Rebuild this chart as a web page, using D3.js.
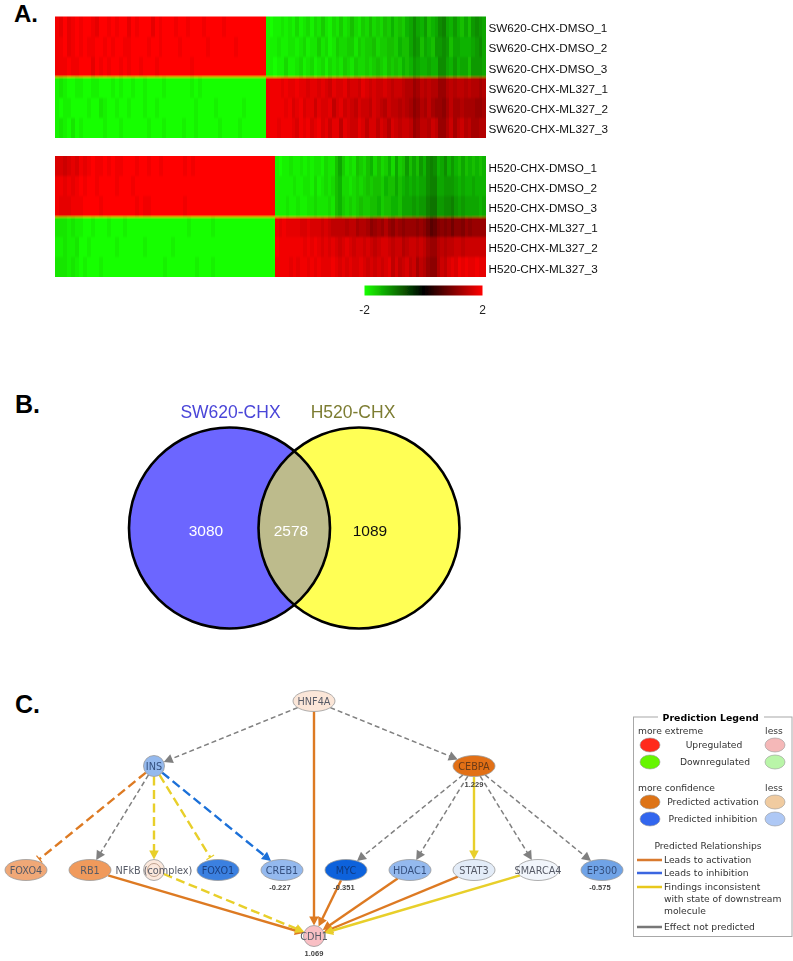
<!DOCTYPE html>
<html><head><meta charset="utf-8">
<script src="https://cdn.jsdelivr.net/npm/d3@7"></script>
<style>html,body{margin:0;padding:0;background:#fff}svg{display:block}</style>
</head><body>
<svg id="c" width="793" height="961"></svg>
<script>
// ---------- Panel A data: |z| per column, read by eye ----------
const sw620Labels = ["SW620-CHX-DMSO_1","SW620-CHX-DMSO_2","SW620-CHX-DMSO_3","SW620-CHX-ML327_1","SW620-CHX-ML327_2","SW620-CHX-ML327_3"];
const h520Labels = ["H520-CHX-DMSO_1","H520-CHX-DMSO_2","H520-CHX-DMSO_3","H520-CHX-ML327_1","H520-CHX-ML327_2","H520-CHX-ML327_3"];
const rowSigns = [1,1,1,-1,-1,-1];

const sw620Left = [
[1.9,1.8,2,1.8,1.9,2,1.9,2,2,1.9,1.8,2,2,1.9,2,1.9,2,2,1.8,2,1.9,2,2,2,1.8,2,1.9,2,2,2,1.9,2,2,1.9,2,2,2,1.9,2,2,2,2,1.9,2,2,2,2,2,2,2,2,2,2],
[1.9,1.9,2,1.8,1.9,2,1.9,2,1.9,1.9,2,2,1.9,2,1.9,2,2,1.9,1.9,2,2,2,2,1.9,2,2,1.9,2,2,2,2,1.9,2,2,2,2,2,2,1.9,2,2,2,2,2,2,1.9,2,2,2,2,2,2,2],
[1.9,1.9,1.9,2,1.9,1.9,2,2,2,1.8,2,1.9,2,1.9,2,2,1.9,2,1.9,2,2,1.9,2,2,2,1.9,2,2,2,2,2,2,2,2,1.9,2,2,2,2,2,2,2,2,2,2,2,2,2,2,2,2,2,2],
[1.9,1.8,1.9,2,2,1.9,1.9,2,2,1.9,1.9,2,2,2,1.9,2,1.9,2,2,1.9,2,2,1.9,2,2,2,2,1.9,2,2,2,2,2,2,1.9,2,1.9,2,2,2,2,2,2,2,2,2,2,2,2,2,2,2,2],
[1.9,2,1.9,1.9,2,2,2,2,1.9,2,2,1.8,1.9,2,2,1.9,2,2,1.9,2,2,2,1.9,2,2,1.9,2,2,2,2,2,2,2,2,2,1.9,2,2,2,2,1.9,2,2,2,2,2,2,1.9,2,2,2,2,2],
[1.9,1.8,1.9,2,1.8,2,1.9,2,2,2,2,2,1.9,2,2,2,1.9,2,2,2,2,2,2,1.9,2,2,2,1.9,2,2,2,2,1.9,2,2,1.9,2,2,2,2,2,1.9,2,2,2,2,1.9,2,2,2,2,2,2]];
const sw620Right = [
[1.9,2,1.9,1.9,1.8,1.9,1.8,1.9,1.7,1.9,1.8,1.7,1.9,1.7,1.8,1.6,1.8,1.9,1.7,1.8,1.6,1.8,1.7,1.5,1.7,1.8,1.6,1.7,1.5,1.7,1.6,1.7,1.5,1.6,1.4,1.6,1.5,1.6,1.4,1.3,1.1,1.3,1.4,1.2,1.5,1.4,1.3,1.1,1,1.3,1.4,1.2,1.4,1.5,1.3,1.5,1.2,1.1,1.2,1.3],
[1.9,1.9,1.9,1.8,1.9,1.9,1.8,1.8,1.9,1.8,1.7,1.9,1.8,1.8,1.6,1.8,1.7,1.9,1.8,1.6,1.7,1.7,1.6,1.6,1.8,1.6,1.7,1.6,1.6,1.5,1.7,1.6,1.6,1.5,1.5,1.6,1.4,1.5,1.5,1.3,1.1,1.2,1.5,1.3,1.4,1.5,1.2,1.2,1.1,1.2,1.5,1.3,1.3,1.4,1.4,1.4,1.3,1.2,1.1,1.3],
[1.9,1.9,2,1.9,1.9,1.7,1.9,1.9,1.8,1.7,1.9,1.8,1.7,1.9,1.8,1.7,1.9,1.7,1.8,1.7,1.8,1.6,1.7,1.8,1.6,1.7,1.7,1.6,1.7,1.6,1.5,1.6,1.7,1.5,1.6,1.5,1.6,1.4,1.5,1.4,1.2,1.3,1.4,1.4,1.3,1.4,1.4,1.1,1.1,1.3,1.4,1.2,1.4,1.3,1.3,1.5,1.2,1.2,1.2,1.3],
[1.9,1.9,1.9,1.9,1.8,1.9,1.8,1.8,1.9,1.8,1.8,1.7,1.8,1.8,1.7,1.8,1.7,1.6,1.8,1.7,1.7,1.8,1.6,1.7,1.7,1.6,1.8,1.7,1.6,1.7,1.6,1.6,1.7,1.6,1.5,1.6,1.6,1.5,1.4,1.4,1.2,1.3,1.5,1.4,1.5,1.4,1.4,1.2,1.2,1.4,1.5,1.4,1.5,1.5,1.4,1.5,1.4,1.4,1.3,1.4],
[1.9,1.9,1.9,1.9,1.9,1.8,1.9,1.7,1.8,1.9,1.7,1.8,1.8,1.6,1.8,1.7,1.7,1.8,1.5,1.7,1.8,1.6,1.7,1.6,1.5,1.7,1.6,1.6,1.5,1.7,1.6,1.5,1.4,1.6,1.5,1.5,1.4,1.5,1.4,1.3,1.1,1.2,1.4,1.3,1.5,1.3,1.2,1.2,1.1,1.3,1.5,1.3,1.3,1.4,1.3,1.3,1.3,1.2,1.2,1.3],
[1.9,1.9,1.9,1.8,1.9,1.9,1.9,1.8,1.7,1.9,1.8,1.9,1.7,1.8,1.9,1.7,1.8,1.6,1.8,1.8,1.5,1.8,1.7,1.6,1.6,1.8,1.7,1.5,1.7,1.7,1.5,1.7,1.6,1.4,1.7,1.6,1.5,1.6,1.6,1.5,1.2,1.3,1.5,1.5,1.4,1.6,1.5,1.2,1.2,1.4,1.6,1.3,1.5,1.6,1.4,1.5,1.3,1.3,1.4,1.4]];

const h520Left = [
[1.7,1.7,1.6,1.7,1.8,1.7,1.9,1.8,1.9,2,1.9,1.9,2,1.9,2,1.9,1.9,2,2,2,1.9,2,2,1.9,2,2,1.9,2,2,2,2,2,1.9,2,1.9,2,2,2,2,2,2,2,2,2,2,2,2,2,2,2,2,2,2,2,2],
[1.9,1.9,1.8,1.9,1.8,1.9,2,1.9,2,2,1.9,2,2,2,2,1.9,2,2,2,1.9,2,2,2,2,2,2,2,2,2,2,2,2,2,2,2,2,2,2,2,2,2,2,2,2,2,2,2,2,2,2,2,2,2,2,2],
[1.9,1.8,1.8,1.8,1.9,1.9,1.9,2,2,2,2,1.9,2,2,2,2,2,2,2,2,1.9,2,1.9,1.9,2,2,2,2,2,2,2,2,1.9,2,2,2,2,2,2,2,2,2,2,2,2,2,2,2,2,2,2,2,2,2,2],
[1.8,1.8,1.8,1.9,1.8,1.9,1.9,2,2,1.9,2,2,2,1.9,2,2,2,1.9,2,2,2,2,2,2,2,2,2,2,2,2,2,2,2,1.9,2,2,2,2,2,1.9,2,2,2,2,2,2,2,2,2,2,2,2,2,2,2],
[1.9,1.9,1.8,1.9,1.9,1.8,2,2,1.9,2,2,2,2,2,2,1.9,2,2,2,2,2,2,1.9,2,2,2,2,2,2,1.9,2,2,2,2,2,2,2,2,2,2,2,2,2,2,2,2,2,2,2,2,2,2,2,2,2],
[1.8,1.8,1.8,1.9,1.8,1.9,2,1.9,2,2,2,1.9,2,2,2,2,2,2,2,2,2,2,2,2,2,2,2,1.9,2,2,2,2,2,2,2,1.9,2,2,2,1.9,2,2,2,2,2,2,2,2,2,2,2,2,2,2,2]];
const h520Right = [
[1.9,2,1.9,1.9,1.8,1.9,1.9,1.8,1.9,1.8,1.9,1.8,1.8,1.9,1.7,1.8,1.8,1.5,1.3,1.6,1.8,1.7,1.8,1.5,1.6,1.7,1.5,1.4,1.7,1.5,1.7,1.6,1.4,1.7,1.3,1.6,1.5,1.2,1.5,1.3,1.5,1.2,1.4,1.1,1,1.1,1.4,1.3,1.1,1.4,1.2,1.4,1.5,1.3,1.5,1.4,1.5,1.4,1.5,1.4],
[1.9,1.9,1.9,1.9,1.9,1.8,1.9,1.9,1.8,1.8,1.9,1.7,1.9,1.8,1.7,1.8,1.7,1.5,1.4,1.7,1.7,1.8,1.7,1.6,1.7,1.6,1.5,1.6,1.5,1.5,1.6,1.4,1.5,1.5,1.3,1.5,1.4,1.3,1.4,1.3,1.4,1.3,1.3,1.1,1,1,1.3,1.3,1.2,1.2,1.2,1.3,1.4,1.3,1.4,1.4,1.3,1.4,1.4,1.4],
[1.9,1.9,1.9,1.8,1.9,1.9,1.8,1.9,1.9,1.8,1.8,1.7,1.8,1.8,1.8,1.7,1.8,1.5,1.4,1.6,1.7,1.6,1.7,1.6,1.5,1.6,1.6,1.5,1.5,1.4,1.6,1.5,1.5,1.4,1.4,1.5,1.3,1.3,1.3,1.2,1.3,1.2,1.2,1,.9,.9,1.2,1.2,1.1,1.1,1,1.2,1.3,1.2,1.3,1.3,1.3,1.3,1.4,1.3],
[1.9,1.8,1.9,1.8,1.8,1.8,1.8,1.7,1.7,1.8,1.7,1.7,1.7,1.6,1.7,1.6,1.5,1.5,1.5,1.5,1.4,1.5,1.5,1.3,1.4,1.4,1.3,1.1,1.2,1.3,1.2,1.4,1.2,1.1,1.3,1.2,1.1,1.2,1.2,1.2,1.1,1.2,1.1,.9,.7,.8,1,1.1,1,1.1,.9,1.1,1.1,1,1.2,1.1,1.2,1.2,1.2,1.2],
[2,1.9,1.9,1.9,1.9,1.9,1.9,1.9,1.8,1.9,1.8,1.9,1.8,1.7,1.8,1.7,1.8,1.7,1.6,1.7,1.8,1.7,1.6,1.7,1.7,1.6,1.7,1.6,1.5,1.6,1.7,1.7,1.6,1.5,1.6,1.6,1.4,1.5,1.6,1.6,1.5,1.6,1.5,1.3,1.2,1.2,1.4,1.5,1.4,1.5,1.5,1.6,1.6,1.5,1.6,1.6,1.6,1.6,1.6,1.6],
[1.9,1.9,1.9,1.9,1.8,1.9,1.8,1.9,1.9,1.8,1.9,1.8,1.9,1.8,1.8,1.8,1.9,1.8,1.7,1.8,1.7,1.8,1.7,1.7,1.8,1.7,1.6,1.7,1.6,1.7,1.6,1.7,1.8,1.5,1.7,1.5,1.6,1.7,1.5,1.6,1.3,1.5,1.4,1.2,1.1,1.1,1.4,1.6,1.5,1.7,1.8,1.7,1.9,1.8,1.9,1.8,1.8,1.9,1.8,1.8]];
const colorbarTicks = [-2,2];

// ---------- Panel B data ----------
const vennSets = ["SW620-CHX","H520-CHX"];
const vennCounts = [3080,2578,1089];

// ---------- Panel C data ----------
const nodeNames = ["HNF4A","INS","CEBPA","FOXO4","RB1","NFkB (complex)","FOXO1","CREB1","MYC","HDAC1","STAT3","SMARCA4","EP300","CDH1"];
const nodeTiers = [0,1,1,2,2,2,2,2,2,2,2,2,2,3];
const nodeColumns = [4.5,2,7,0,1,2,3,4,5,6,7,8,9,4.5];
const nodeStates = ["act4","inh3","act1","act3","act2","act5","inh2","inh3","inh1","inh3","inh5","inh6","inh4","up"];
const nodeValues = [null,null,"1.229",null,null,null,null,"-0.227","-0.351",null,null,null,"-0.575","1.069"];
const edgeFrom = ["HNF4A","HNF4A","HNF4A","INS","INS","INS","INS","INS","CEBPA","CEBPA","CEBPA","CEBPA","CEBPA","RB1","NFkB (complex)","MYC","HDAC1","STAT3","SMARCA4"];
const edgeTo = ["INS","CEBPA","CDH1","FOXO4","RB1","NFkB (complex)","FOXO1","CREB1","MYC","HDAC1","STAT3","SMARCA4","EP300","CDH1","CDH1","CDH1","CDH1","CDH1","CDH1"];
const edgeKinds = ["none","none","act","act","none","odd","odd","inh","none","none","odd","none","none","act","odd","act","act","act","odd"];
const edgeDashed = [1,1,0,1,1,1,1,1,1,1,0,1,1,0,1,0,0,0,0];
const edgeEnds = ["arrow","arrow","arrow","bar","arrow","arrow","bar","arrow","arrow","arrow","arrow","arrow","arrow","arrow","arrow","arrow","arrow","arrow","arrow"];
const legendCircles = ["Upregulated","Downregulated","Predicted activation","Predicted inhibition"];
const legendLines = ["Leads to activation","Leads to inhibition","Findings inconsistent","Effect not predicted"];

// ---------- Drawing ----------
const svg = d3.select("#c");
const sansFont = "'Liberation Sans',Arial,sans-serif", ipaFont = "'DejaVu Sans',sans-serif";
const defs = svg.append("defs");
defs.append("filter").attr("id","soft").attr("x","-1%").attr("y","-2%").attr("width","102%").attr("height","104%")
  .append("feGaussianBlur").attr("stdDeviation","0.5 0.8");
defs.append("filter").attr("id","fine").attr("filterUnits","userSpaceOnUse").attr("x",0).attr("y",0).attr("width",793).attr("height",961)
  .append("feGaussianBlur").attr("stdDeviation",0.38);

const heatColor = d3.scaleLinear().domain([-2,0,2]).range(["#18ff00","#000000","#ff0000"]);

[["A.",14,22,24],["B.",15,413,25],["C.",15,713,25]].forEach(([t,x,y,s])=>
  svg.append("text").attr("x",x).attr("y",y).attr("font-family",sansFont).attr("font-weight","bold").attr("font-size",s).attr("fill","#000").text(t));

function heatmap(left,right,labels,xRange,yRange,clipId){
  const g = svg.append("g");
  defs.append("clipPath").attr("id",clipId).append("rect")
    .attr("x",xRange[0]).attr("y",yRange[0]).attr("width",xRange[2]-xRange[0]).attr("height",yRange[1]-yRange[0]);
  const cells = g.append("g").attr("clip-path",`url(#${clipId})`)
    .append("g").attr("filter","url(#soft)").attr("shape-rendering","crispEdges");
  const y = d3.scaleBand().domain(labels).range(yRange);
  const xL = d3.scaleBand().domain(d3.range(left[0].length)).range([xRange[0],xRange[1]]);
  const xR = d3.scaleBand().domain(d3.range(right[0].length)).range([xRange[1],xRange[2]]);
  labels.forEach((lab,r)=>{
    [[left[r],xL,rowSigns[r]],[right[r],xR,-rowSigns[r]]].forEach(([vals,x,s])=>{
      // extend the outermost cells past the clip so the blur keeps the edges solid
      cells.selectAll(null).data(vals).join("rect")
        .attr("x",(d,i)=>x(i)-(i===0&&x===xL?3:0)).attr("width",(d,i)=>x.bandwidth()+0.6+((i===0&&x===xL)||(i===vals.length-1&&x===xR)?3:0))
        .attr("y",y(lab)-(r===0?3:0)).attr("height",y.bandwidth()+0.6+(r===0||r===labels.length-1?3:0))
        .attr("fill",d=>heatColor(d*s));
    });
  });
  g.append("g").attr("filter","url(#fine)").selectAll("text").data(labels).join("text")
    .attr("x",xRange[2]+2.5).attr("y",d=>y(d)+y.bandwidth()/2+5.6)
    .attr("font-family",sansFont).attr("font-size",11.7).attr("fill","#111").text(d=>d);
}
heatmap(sw620Left,sw620Right,sw620Labels,[55,266,486],[16.5,138],"clipSW");
heatmap(h520Left,h520Right,h520Labels,[55,275,486],[156,277],"clipH");

// colour bar
const cbScale = d3.scaleLinear().domain(colorbarTicks).range([364.5,482.5]);
const grad = defs.append("linearGradient").attr("id","cb");
d3.range(0,1.01,0.25).forEach(t=>grad.append("stop").attr("offset",t).attr("stop-color",heatColor(-2+4*t)));
svg.append("rect").attr("x",cbScale(-2)).attr("y",285.5).attr("width",cbScale(2)-cbScale(-2)).attr("height",10).attr("fill","url(#cb)").attr("filter","url(#fine)");
svg.append("g").attr("filter","url(#fine)").selectAll(".cbt").data(colorbarTicks).join("text").attr("class","cbt")
  .attr("x",d=>cbScale(d)).attr("y",313.5).attr("text-anchor","middle")
  .attr("font-family",sansFont).attr("font-size",12).attr("fill","#222").text(d=>d);

// Venn
const venn = svg.append("g").attr("filter","url(#fine)");
const vx = d3.scalePoint().domain(vennSets).range([229.5,359]);
const vr = 100.5, vy = 528;
venn.append("circle").attr("cx",vx(vennSets[0])).attr("cy",vy).attr("r",vr).attr("fill","#6c66ff");
venn.append("circle").attr("cx",vx(vennSets[1])).attr("cy",vy).attr("r",vr).attr("fill","#ffff55");
defs.append("clipPath").attr("id","vclip").append("circle").attr("cx",vx(vennSets[0])).attr("cy",vy).attr("r",vr);
venn.append("circle").attr("cx",vx(vennSets[1])).attr("cy",vy).attr("r",vr).attr("fill","#bdbb8c").attr("clip-path","url(#vclip)");
vennSets.forEach(s=>venn.append("circle").attr("cx",vx(s)).attr("cy",vy).attr("r",vr).attr("fill","none").attr("stroke","#000").attr("stroke-width",2.6));
venn.selectAll(".vt").data(vennSets).join("text").attr("class","vt")
  .attr("x",(d,i)=>[230.5,353][i]).attr("y",418).attr("text-anchor","middle")
  .attr("font-family",sansFont).attr("font-size",17.5).attr("fill",(d,i)=>["#4a45d8","#7d7d33"][i]).text(d=>d);
venn.selectAll(".vc").data(vennCounts).join("text").attr("class","vc")
  .attr("x",(d,i)=>[206,291,370][i]).attr("y",536).attr("text-anchor","middle")
  .attr("font-family",sansFont).attr("font-size",15.5).attr("fill",(d,i)=>i==2?"#111":"#fff").text(d=>d);

// Network
const netX = d3.scaleLinear().domain([0,9]).range([26,602]);
const netY = d3.scaleLinear().domain([0,1,2,3]).range([701,766,870,936]);
const stateFill = {act1:"#e26f12",act2:"#f09a5b",act3:"#f0a877",act4:"#fbe6d8",act5:"#fbe8dc",
  inh1:"#0b62dc",inh2:"#3a80e0",inh3:"#94b9ee",inh4:"#6fa3e6",inh5:"#e3ecf8",inh6:"#f1f5fb",up:"#f9bfc4"};
const stateText = {act1:"#6a3a14",inh1:"#123a80",inh2:"#1c3f80",inh3:"#34507f",inh4:"#34507f"};
const kindColor = {none:"#808080",act:"#dd7a24",inh:"#1a6fd8",odd:"#e8cf2a"};
const nodes = nodeNames.map((n,i)=>{
  const round = n==="INS"||n==="CDH1"||n.startsWith("NFkB");
  return {name:n,x:netX(nodeColumns[i]),y:netY(nodeTiers[i]),rx:round?10.5:21,ry:10.5,state:nodeStates[i],value:nodeValues[i],round};
});
const byName = new Map(nodes.map(n=>[n.name,n]));
const border=(n,ux,uy)=>{const t=1/Math.sqrt((ux/n.rx)**2+(uy/n.ry)**2);return [n.x+ux*t,n.y+uy*t];};
const net = svg.append("g").attr("filter","url(#fine)");
const edges = edgeFrom.map((f,i)=>({a:byName.get(f),b:byName.get(edgeTo[i]),kind:edgeKinds[i],dash:edgeDashed[i],end:edgeEnds[i]}));
edges.forEach(e=>{
  const dx=e.b.x-e.a.x, dy=e.b.y-e.a.y, L=Math.hypot(dx,dy), ux=dx/L, uy=dy/L;
  const s=border(e.a,ux,uy), t=border(e.b,-ux,-uy);
  const col=kindColor[e.kind], grey=e.kind==="none";
  const w=grey?1.5:2.4;
  const hl=9, hw=4.8;
  const stopX=e.end==="arrow"?t[0]-ux*hl*0.8:t[0]-ux*3, stopY=e.end==="arrow"?t[1]-uy*hl*0.8:t[1]-uy*3;
  net.append("line").attr("x1",s[0]).attr("y1",s[1]).attr("x2",stopX).attr("y2",stopY)
    .attr("stroke",col).attr("stroke-width",w).attr("stroke-dasharray",e.dash?(grey?"5,3":"9,4.5"):null);
  if(e.end==="arrow"){
    const bx=t[0]-ux*hl,by=t[1]-uy*hl;
    net.append("path").attr("d",d3.line()([[t[0],t[1]],[bx-uy*hw,by+ux*hw],[bx+uy*hw,by-ux*hw]])+"Z").attr("fill",col);
  } else {
    const bx=t[0]-ux*3,by=t[1]-uy*3,h=4.5;
    net.append("line").attr("x1",bx-uy*h).attr("y1",by+ux*h).attr("x2",bx+uy*h).attr("y2",by-ux*h).attr("stroke",col).attr("stroke-width",1.2);
  }
});
const nodeG = net.selectAll(".n").data(nodes).join("g").attr("class","n");
nodeG.append("ellipse").attr("cx",d=>d.x).attr("cy",d=>d.y).attr("rx",d=>d.rx).attr("ry",d=>d.ry)
  .attr("fill",d=>stateFill[d.state]).attr("stroke","#9a9a9a").attr("stroke-width",0.8);
nodeG.filter(d=>d.name.startsWith("NFkB")).append("circle").attr("cx",d=>d.x).attr("cy",d=>d.y).attr("r",6.5)
  .attr("fill","none").attr("stroke","#b08f7a").attr("stroke-width",0.8);
nodeG.append("text").attr("x",d=>d.x).attr("y",d=>d.y+3.5).attr("text-anchor","middle")
  .attr("font-family",ipaFont).attr("font-size",9.7).attr("fill",d=>stateText[d.state]||"#565a66").text(d=>d.name);
nodeG.filter(d=>d.value).append("text").attr("x",d=>d.x-(d.name==="CDH1"||d.name==="CEBPA"?0:2)).attr("y",d=>d.y+(d.name==="CEBPA"?21:20))
  .attr("text-anchor","middle").attr("font-family",sansFont).attr("font-size",7.5).attr("font-weight","bold").attr("fill","#444").text(d=>d.value);

// Legend
const lg = svg.append("g").attr("filter","url(#fine)").attr("font-family",ipaFont).attr("font-size",9.2).attr("fill","#333");
lg.append("rect").attr("x",633.5).attr("y",717).attr("width",158.5).attr("height",219.5).attr("fill","#fff").attr("stroke","#a8a8a8").attr("stroke-width",1);
lg.append("rect").attr("x",658).attr("y",712).attr("width",106).attr("height",10).attr("fill","#fff");
const ltext=(x,y,t,anchor)=>lg.append("text").attr("x",x).attr("y",y+3.3).attr("text-anchor",anchor||"start").text(t);
lg.append("text").attr("x",710.7).attr("y",720.6).attr("text-anchor","middle").attr("font-weight","bold").attr("font-size",9.4).attr("fill","#000").text("Prediction Legend");
ltext(638,731,"more extreme"); ltext(774,731,"less","middle");
ltext(638,788,"more confidence"); ltext(774,788,"less","middle");
const circY=[745,762,802,819], circFull=["#ff2a1a","#66f500","#dd7316","#3366ee"], circPale=["#f5b8b8","#b9f5a8","#f0cba0","#aec8f5"], circTx=[714,715,713,713];
legendCircles.forEach((t,i)=>{
  lg.append("ellipse").attr("cx",650).attr("cy",circY[i]).attr("rx",10).attr("ry",7).attr("fill",circFull[i]).attr("stroke","#999").attr("stroke-width",.6);
  lg.append("ellipse").attr("cx",775).attr("cy",circY[i]).attr("rx",10).attr("ry",7).attr("fill",circPale[i]).attr("stroke","#999").attr("stroke-width",.6);
  ltext(circTx[i],circY[i],t,"middle");
});
ltext(708,846,"Predicted Relationships","middle");
const lineY=[860,873,887,927], lineCol=["#d97a2d","#3a66e0","#e8c81e","#777"];
legendLines.forEach((t,i)=>{
  lg.append("line").attr("x1",637).attr("x2",662).attr("y1",lineY[i]).attr("y2",lineY[i]).attr("stroke",lineCol[i]).attr("stroke-width",2.5);
  ltext(664,lineY[i],t);
});
ltext(664,899,"with state of downstream"); ltext(664,911,"molecule");
</script>
</body></html>
